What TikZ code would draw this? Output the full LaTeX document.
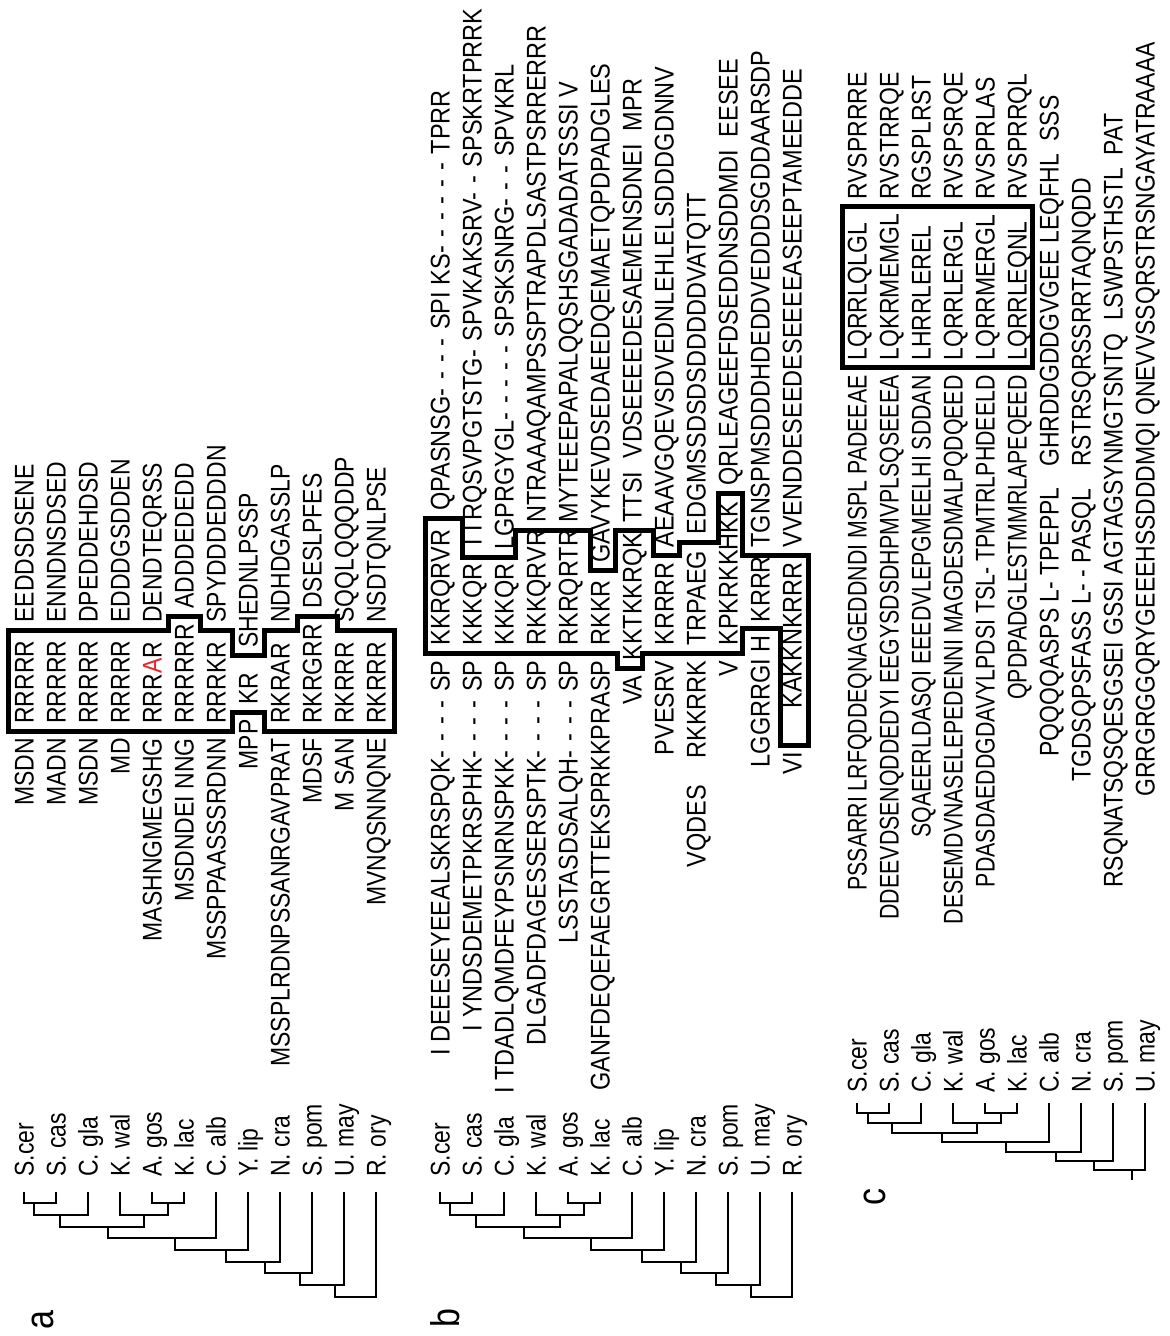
\documentclass[tikz,border=0pt]{standalone}
\usepackage{fontspec}
\usepackage{xcolor}
\usepackage{tikz}
\usetikzlibrary{positioning}
\newfontfamily\seqfont[FakeStretch=0.85]{Liberation Sans}
\newfontfamily\seqfontwide[FakeStretch=0.87]{Liberation Sans}
\newfontfamily\seqfontnarrow[FakeStretch=0.79]{Liberation Sans}
\definecolor{markred}{HTML}{E8262A}
\newcommand{\seqrow}[8]{%
  \node[seqleft]  (#1l) at (#2,#3) {#4};
  \node[seqright] (#1m) at (#2,#5) {#6};
  \node[seqright] (#1r) at (#2,#7) {#8};}
\newcommand{\narrow}[1]{{\seqfontnarrow #1}}
\newcommand{\dg}{-\hspace{4.4pt}}

\begin{document}
\begin{tikzpicture}[
  x=0.5pt, y=-0.5pt,
  seq/.style={rotate=90, inner sep=0pt, text height=9.7pt, text depth=0pt,
    font=\seqfont\fontsize{13.5}{15}\selectfont},
  seqleft/.style={seq, anchor=east},
  seqright/.style={seq, anchor=west},
  taxon/.style={seq, anchor=west},
  panellabel/.style={rotate=90, inner sep=0pt, font=\seqfont\fontsize{20}{22}\selectfont},
  motifbox/.style={line width=2.5pt, line join=miter},
  branch/.style={line width=0.65pt}
]
\useasboundingbox (0,0) rectangle (1170,1336);

% panel a
\seqrow{a1}{24}{738}{MSDN}{724}{RRRRR}{623}{EEDDSDSENE}
\seqrow{a2}{56}{738}{MADN}{724}{RRRRR}{623}{ENNDNSDSED}
\seqrow{a3}{88}{738}{MSDN}{724}{RRRRR}{623}{DPEDDEHDSD}
\seqrow{a4}{120}{738}{MD}{724}{RRRRR}{623}{EDDDGSDDEN}
\seqrow{a5}{152}{738}{MASHNGMEGSHG}{724}{RRR\textcolor{markred}{A}R}{623}{DENDTEQRSS}
\seqrow{a6}{184}{738}{MSDNDEI NNG}{724}{RRRRRR}{609}{ADDDEDEDD}
\seqrow{a7}{216}{738}{MSSPPAASSSRDNN}{724}{RRRKR}{623}{SPYDDDEDDDN}
\seqrow{a8}{248}{719}{MPP}{705}{KR}{648}{SHEDNLPSSP}
\seqrow{a9}{280}{738}{MSSPLRDNPSSANRGAVPRAT}{724}{RKRAR}{623}{NDHDGASSLP}
\seqrow{a10}{312}{738}{MDSF}{724}{RKRGRR}{609}{DSESLPFES}
\seqrow{a11}{344}{738}{M SAN}{724}{RKRRR}{623}{SQQLQQQDDP}
\seqrow{a12}{376}{738}{MVNQSNNQNE}{724}{RKRRR}{623}{NSDTQNLPSE}

\draw[motifbox] (8,731) -- (8,630) -- (168,630) -- (168,616) -- (200,616)
  -- (200,630) -- (232,630) -- (232,655) -- (264,655) -- (264,630)
  -- (297,630) -- (297,616) -- (337,616) -- (337,630) -- (394,630)
  -- (394,731) -- (264,731) -- (264,712) -- (232,712) -- (232,731) -- cycle;

\node[taxon] (la1) at (24,1177) {S.cer};
\node[taxon] (la2) at (56,1177) {S. cas};
\node[taxon] (la3) at (88,1177) {C. gla};
\node[taxon] (la4) at (120,1177) {K. wal};
\node[taxon] (la5) at (152,1177) {A. gos};
\node[taxon] (la6) at (184,1177) {K. lac};
\node[taxon] (la7) at (216,1177) {C. alb};
\node[taxon] (la8) at (248,1177) {Y. lip};
\node[taxon] (la9) at (280,1177) {N. cra};
\node[taxon] (la10) at (312,1177) {S. pom};
\node[taxon] (la11) at (344,1177) {U. may};
\node[taxon] (la12) at (376,1177) {R. ory};

\draw[branch] (24,1192) -- (24,1203) -- (56,1203) -- (56,1192);
\draw[branch] (34,1203) -- (34,1215) -- (88,1215) -- (88,1192);
\draw[branch] (152,1192) -- (152,1203) -- (184,1203) -- (184,1192);
\draw[branch] (120,1192) -- (120,1215) -- (168,1215) -- (168,1203);
\draw[branch] (60,1215) -- (60,1227) -- (144,1227) -- (144,1215);
\draw[branch] (108,1227) -- (108,1238) -- (216,1238) -- (216,1192);
\draw[branch] (175,1238) -- (175,1250) -- (248,1250) -- (248,1192);
\draw[branch] (226,1250) -- (226,1262) -- (280,1262) -- (280,1192);
\draw[branch] (265,1262) -- (265,1273) -- (312,1273) -- (312,1192);
\draw[branch] (300,1273) -- (300,1285) -- (344,1285) -- (344,1192);
\draw[branch] (335,1285) -- (335,1297) -- (376,1297) -- (376,1192);

\node[panellabel] (pa) at (43,1320) {a};

% panel b
\begin{scope}[seq/.append style={font=\seqfontwide\fontsize{13.5}{15}\selectfont}]
\seqrow{b1}{440}{660}{I DEEESEYEEALSKRSPQK\dg\dg\dg\dg SP}{646}{KKRQRVR}{511}{QPASNSG\dg\dg\dg\dg SPI KS\dg\dg\dg\dg\dg\dg TPRR}
\seqrow{b2}{472}{660}{I YNDSDEMETPKRSPHK\dg\dg\dg\dg SP}{646}{KKKQR}{550}{TTRQSVPGTSTG\dg SPVKAKSRV\dg\dg SPSKRTPRRK}
\seqrow{b3}{504}{660}{I TDADLQMDFEYPSNRNSPKK\dg\dg\dg\dg SP}{646}{KKKQR}{550}{LGPRGYGL\dg\dg\dg\dg\dg SPSKSNRG\dg\dg\dg SPVKRL}
\seqrow{b4}{536}{660}{DLGADFDAGESSERSPTK\dg\dg\dg\dg SP}{646}{RKKQRVR}{523}{NTRAAAQAMPSSPTRAPDLSASTPSRRERRR}
\seqrow{b5}{568}{660}{LSSTASDSALQH\dg\dg\dg\dg SP}{646}{RKRQRTR}{523}{MYTEEEPAPALQQSHSGADADATSSSI V}
\seqrow{b6}{600}{660}{GANFDEQEFAEGRTTEKSPRKKPRASP}{646}{RKKR}{563}{GAVYKEVDSEDAEEDQEMAETQPDPADGLES}
\seqrow{b7}{632}{675}{VA}{661}{KKTKKRQK}{523}{TTSI\ \ VDSEEEEDESAEMENSDNEI\ \ MPR}
\seqrow{b8}{664}{660}{PVESRV}{646}{KRRRR}{548}{AEAAVGQEVSDVEDNLEHLELSDDDGDNNV}
\seqrow{b9}{696}{660}{VQDES\quad RKKRRK}{646}{TRPAEG}{535}{EDGMSSDSDSDDDDDVATQTT}
\seqrow{b10}{728}{660}{V}{646}{KPKRKKHKK}{486}{QRLEAGEEFDSEDDNSDDMDI\ \ EESEE}
\seqrow{b11}{760}{635}{LGGRRGI H}{623}{KRRR}{548}{TGNSPMSDDDHDEDDVEDDDSGDDAARSDP}
\node[seqleft] (b12l) at (792,752) {VI};
\node[seqleft] (b12m) at (792,562) {KAKKNKRRR};
\node[seqright] (b12r) at (792,548) {VVENDDESEEDESEEEEASEEPTAMEEDDE};
\end{scope}

\draw[motifbox] (425,653) -- (425,518) -- (462,518) -- (462,557) -- (515,557)
  -- (515,530) -- (590,530) -- (590,570) -- (615,570) -- (615,530)
  -- (653,530) -- (653,555) -- (679,555) -- (679,542) -- (718,542)
  -- (718,493) -- (742,493) -- (742,555) -- (808,555) -- (808,745)
  -- (780,745) -- (780,628) -- (742,628) -- (742,653) -- (642,653)
  -- (642,668) -- (617,668) -- (617,653) -- cycle;

\node[taxon] (lb1) at (440,1177) {S.cer};
\node[taxon] (lb2) at (472,1177) {S. cas};
\node[taxon] (lb3) at (504,1177) {C. gla};
\node[taxon] (lb4) at (536,1177) {K. wal};
\node[taxon] (lb5) at (568,1177) {A. gos};
\node[taxon] (lb6) at (600,1177) {K. lac};
\node[taxon] (lb7) at (632,1177) {C. alb};
\node[taxon] (lb8) at (664,1177) {Y. lip};
\node[taxon] (lb9) at (696,1177) {N. cra};
\node[taxon] (lb10) at (728,1177) {S. pom};
\node[taxon] (lb11) at (760,1177) {U. may};
\node[taxon] (lb12) at (792,1177) {R. ory};

\draw[branch] (440,1192) -- (440,1203) -- (472,1203) -- (472,1192);
\draw[branch] (450,1203) -- (450,1215) -- (504,1215) -- (504,1192);
\draw[branch] (568,1192) -- (568,1203) -- (600,1203) -- (600,1192);
\draw[branch] (536,1192) -- (536,1215) -- (584,1215) -- (584,1203);
\draw[branch] (476,1215) -- (476,1227) -- (560,1227) -- (560,1215);
\draw[branch] (524,1227) -- (524,1238) -- (632,1238) -- (632,1192);
\draw[branch] (591,1238) -- (591,1250) -- (664,1250) -- (664,1192);
\draw[branch] (642,1250) -- (642,1262) -- (696,1262) -- (696,1192);
\draw[branch] (681,1262) -- (681,1273) -- (728,1273) -- (728,1192);
\draw[branch] (716,1273) -- (716,1285) -- (760,1285) -- (760,1192);
\draw[branch] (751,1285) -- (751,1297) -- (792,1297) -- (792,1192);

\node[panellabel] (pb) at (445,1318) {b};

% panel c
\seqrow{c1}{857}{375}{\narrow{PSSARRI LRFQDDEQNAGEDDNDI MSPL PADEEAE}}{361}{LQRRLQLGL}{200}{RVSPRRRE}
\seqrow{c2}{889}{375}{\narrow{DDEEVDSENQDDEDYI EEGYSDSDHPMVPLSQSEEEA}}{361}{LQKRMEMGL}{200}{RVSTRRQE}
\seqrow{c3}{921}{375}{\narrow{SQAEERLDASQI EEEDVLEPGMEELHI SDDAN}}{361}{LHRRLEREL}{200}{RGSPLRST}
\seqrow{c4}{953}{375}{\narrow{DESEMDVNASELEPEDENNI MAGDESDMALPQDQEED}}{361}{LQRRLERGL}{200}{RVSPSRQE}
\seqrow{c5}{985}{375}{\narrow{PDASDAEDDGDAVYLPDSI TSL- TPMTRLPHDEELD}}{361}{LQRRMERGL}{200}{RVSPRLAS}
\seqrow{c6}{1017}{375}{\narrow{QPDPADGLESTMMRLAPEQEED}}{361}{LQRRLEQNL}{200}{RVSPRRQL}
\node[seqright] (c7l) at (1049,757) {PQQQQASPS L- TPEPPL};
\node[seqright] (c7r) at (1049,467) {GHRDDGDDGVGEE LEQFHL\ \ SSS};
\node[seqright] (c8l) at (1081,782) {TGDSQPSFASS L- - PASQL};
\node[seqright] (c8r) at (1081,467) {RSTRSQRSSRRTAQNQDD};
\node[seqright] (c9l) at (1113,888) {RSQNATSQSQESGSEI GSSI AGTAGSYNMGTSNTQ\ \ LSWPSTHSTL\ \ PAT};
\node[seqright] (c10l) at (1145,797) {GRRGRGGQRYGEEEHSSDDDMQI QNEVVSSQRSTRSNGAYATRAAAA};

\draw[motifbox] (842,368) rectangle (1032,207);

\node[taxon] (lc1) at (857,1093) {S.cer};
\node[taxon] (lc2) at (889,1093) {S. cas};
\node[taxon] (lc3) at (921,1093) {C. gla};
\node[taxon] (lc4) at (953,1093) {K. wal};
\node[taxon] (lc5) at (985,1093) {A. gos};
\node[taxon] (lc6) at (1017,1093) {K. lac};
\node[taxon] (lc7) at (1049,1093) {C. alb};
\node[taxon] (lc8) at (1081,1093) {N. cra};
\node[taxon] (lc9) at (1113,1093) {S. pom};
\node[taxon] (lc10) at (1145,1093) {U. may};

\draw[branch] (857,1103) -- (857,1113) -- (889,1113) -- (889,1103);
\draw[branch] (868,1113) -- (868,1123) -- (921,1123) -- (921,1103);
\draw[branch] (985,1103) -- (985,1113) -- (1017,1113) -- (1017,1103);
\draw[branch] (953,1103) -- (953,1123) -- (1001,1123) -- (1001,1113);
\draw[branch] (892,1123) -- (892,1133) -- (977,1133) -- (977,1123);
\draw[branch] (942,1133) -- (942,1142) -- (1049,1142) -- (1049,1103);
\draw[branch] (1006,1142) -- (1006,1152) -- (1081,1152) -- (1081,1103);
\draw[branch] (1056,1152) -- (1056,1161) -- (1113,1161) -- (1113,1103);
\draw[branch] (1094,1161) -- (1094,1170) -- (1145,1170) -- (1145,1103);
\draw[branch] (1132,1170) -- (1132,1180);

\node[panellabel] (pc) at (875,1197) {c};

\end{tikzpicture}
\end{document}
